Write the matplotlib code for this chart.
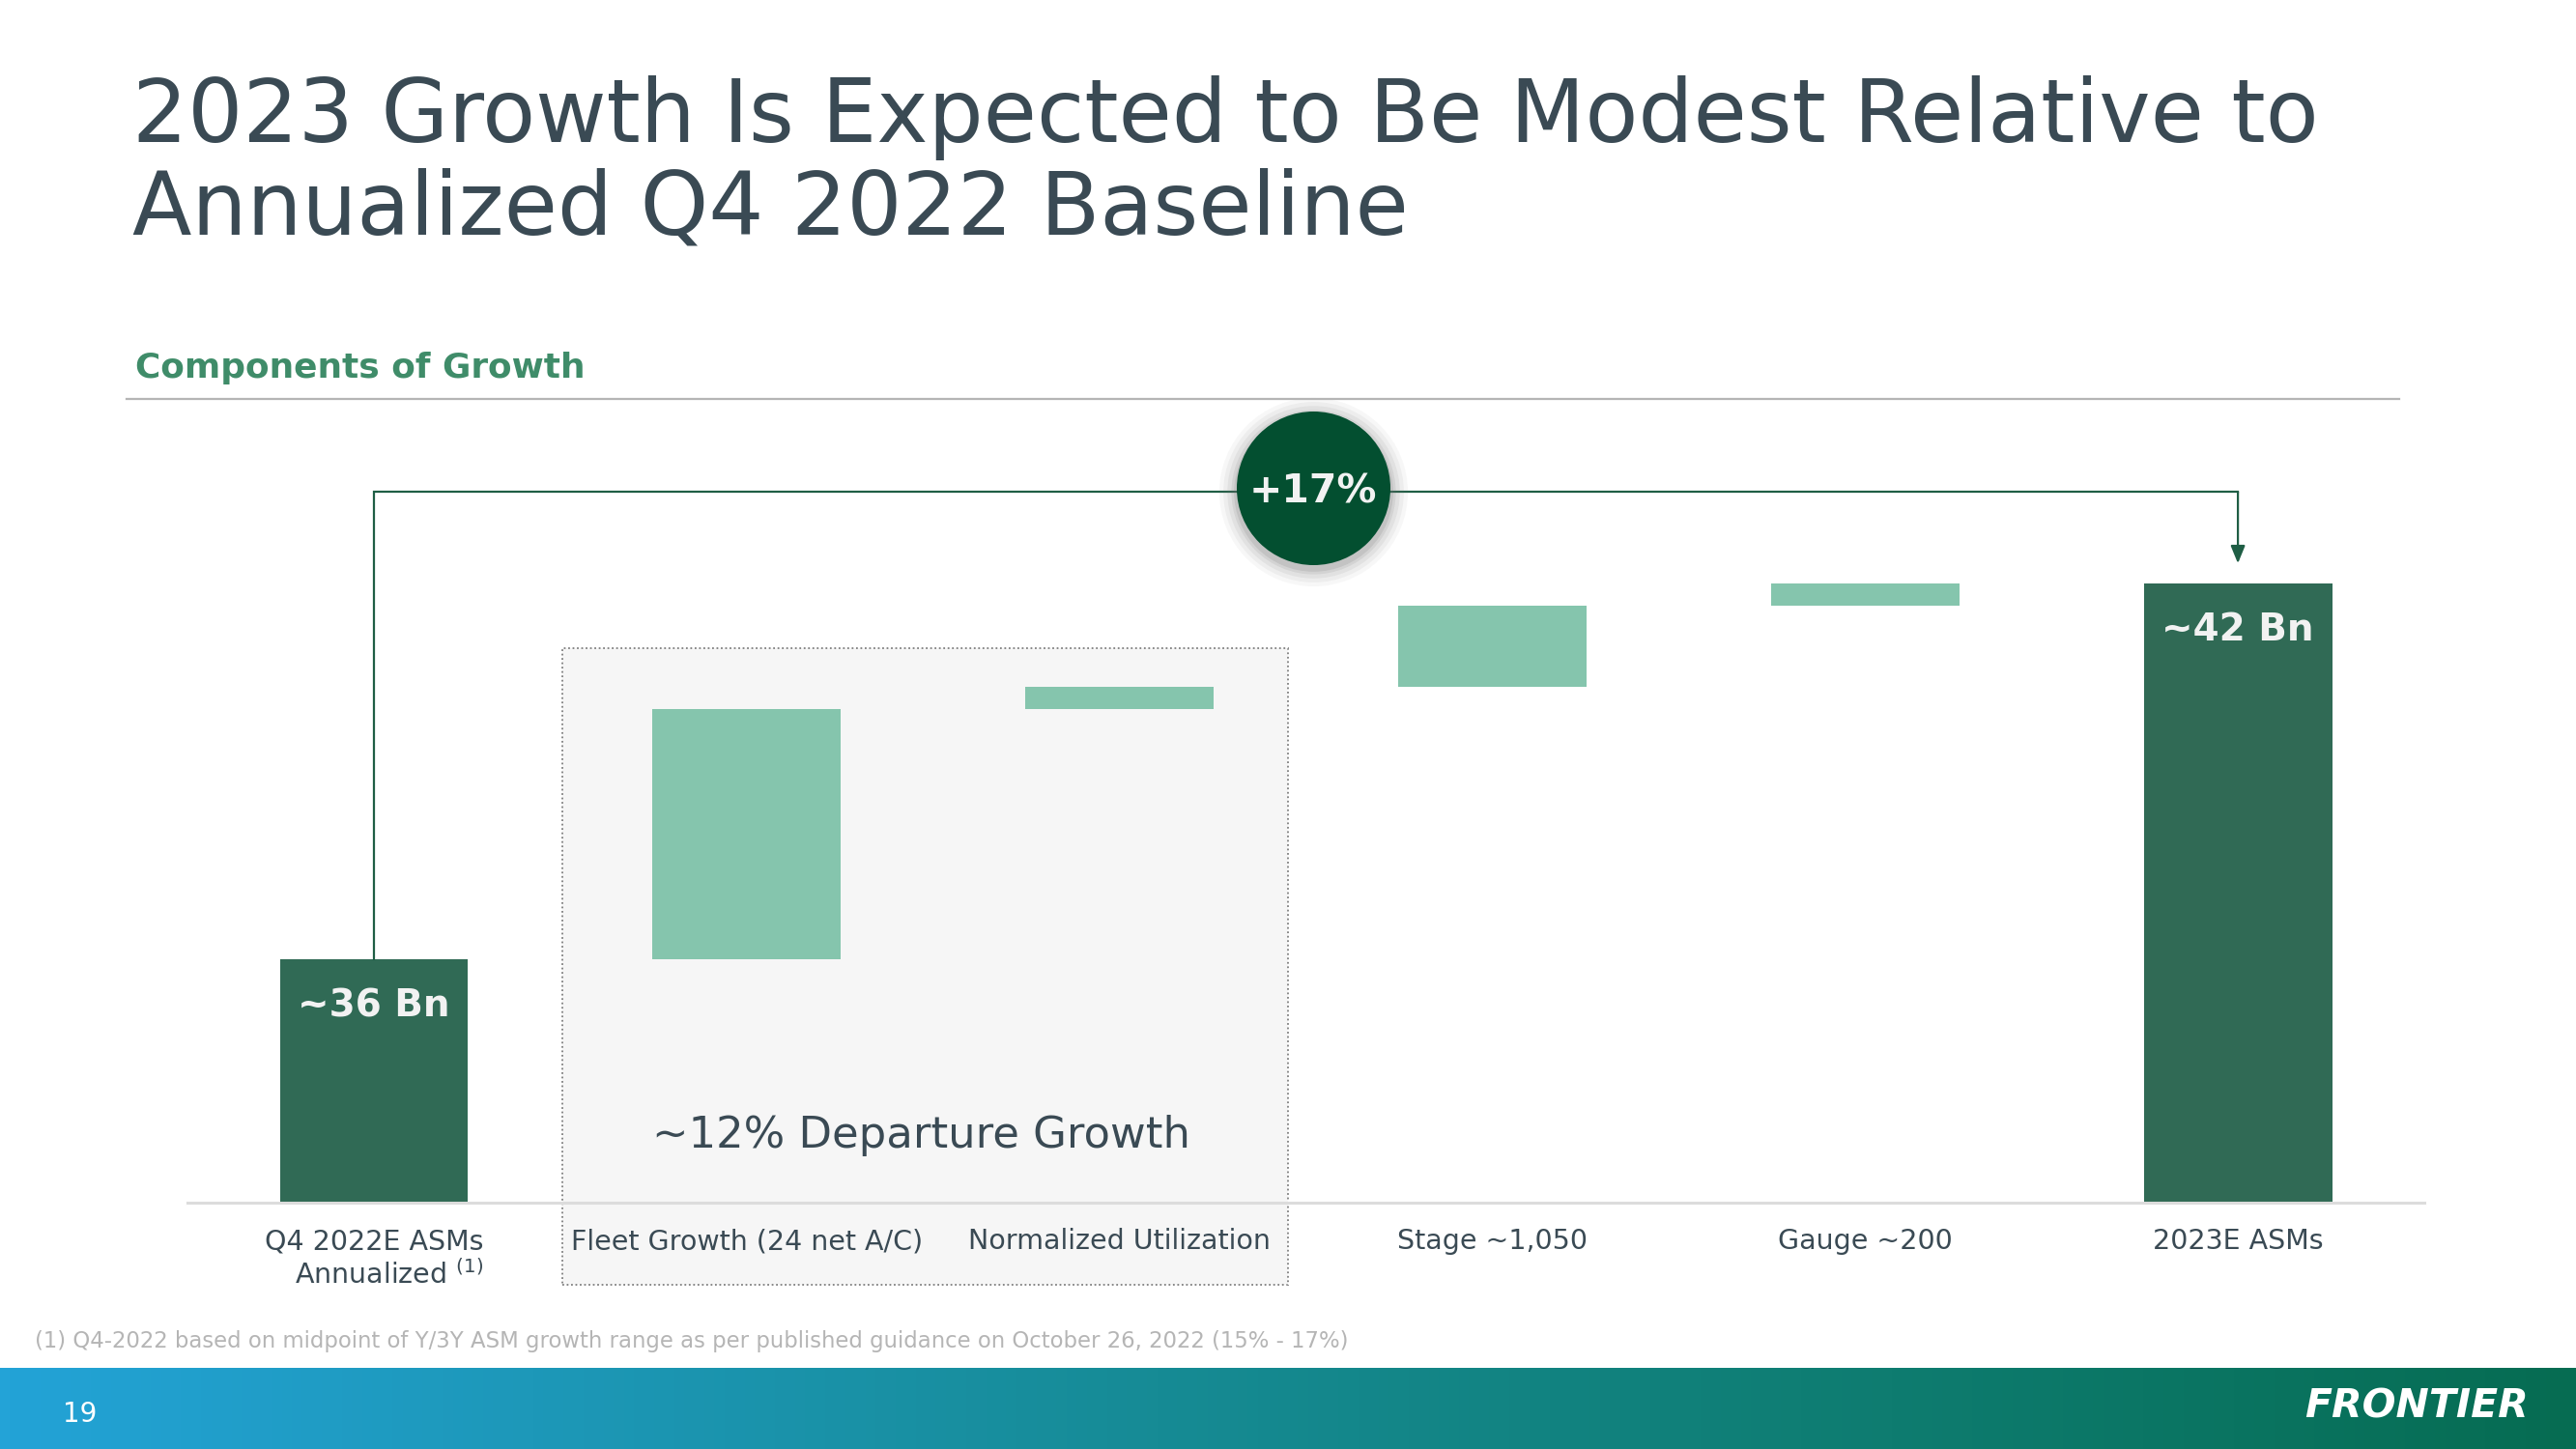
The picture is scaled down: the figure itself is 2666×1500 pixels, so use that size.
import matplotlib
matplotlib.use("Agg")
import matplotlib.pyplot as plt
import numpy as np
from matplotlib.patches import Rectangle, FancyArrowPatch
from matplotlib.lines import Line2D
from matplotlib.colors import LinearSegmentedColormap

plt.rcParams['font.family'] = ['DejaVu Sans']
plt.rcParams['mathtext.fontset'] = 'dejavusans'
plt.rcParams['mathtext.default'] = 'regular'

# ---------------- data ----------------
categories = ["Q4 2022E ASMs\nAnnualized $^{(1)}$", "Fleet Growth (24 net A/C)",
              "Normalized Utilization", "Stage ~1,050", "Gauge ~200", "2023E ASMs"]
start_value = 36.0          # Bn ASMs, Q4 2022 annualized
increments = [4.0, 0.35, 1.3, 0.35]
end_value = 42.0            # Bn ASMs, 2023E
total_labels = ["~36 Bn", "~42 Bn"]
growth_label = "+17%"
group_label = "~12% Departure Growth"

# ---------------- style ----------------
TITLE_C = "#3a4a54"
DARK = "#306a55"
LIGHT = "#85c5ad"
LINE_C = "#1f5e45"
CIRCLE_C = "#034f30"
Y_FLOOR = 32.12
Y_TOP = 44.836
BAR_W = 0.505

fig = plt.figure(figsize=(26.66, 15.0), dpi=100)
fig.patch.set_facecolor("white")

# Titles
fig.text(137 / 2666, 1 - 147.3 / 1500, "2023 Growth Is Expected to Be Modest Relative to",
         fontsize=64.7, color=TITLE_C, va="baseline", ha="left")
fig.text(137 / 2666, 1 - 242.7 / 1500, "Annualized Q4 2022 Baseline",
         fontsize=64.7, color=TITLE_C, va="baseline", ha="left")
fig.text(140 / 2666, 1 - 391 / 1500, "Components of Growth", fontsize=25.8,
         fontweight="bold", color="#3f8c69", va="baseline", ha="left")
fig.add_artist(Line2D([131 / 2666, 2483 / 2666], [1 - 413 / 1500] * 2,
                      color="#b5b5b5", lw=1.6, transform=fig.transFigure))

# Main axes
ax = fig.add_axes([194.1 / 2666, 0.17, (2509 - 194.1) / 2666, 825 / 1500])
ax.set_facecolor("none")
ax.set_xlim(-0.5, 5.5)
ax.set_ylim(Y_FLOOR, Y_TOP)

x = np.arange(len(categories))
cum = start_value + np.cumsum([0] + increments)
# total bars
ax.bar([x[0], x[-1]], [start_value - Y_FLOOR, end_value - Y_FLOOR], bottom=Y_FLOOR,
       width=BAR_W, color=DARK, zorder=2)
# floating increment bars
ax.bar(x[1:-1], increments, bottom=cum[:-1], width=BAR_W, color=LIGHT, zorder=2)

# bar value labels
for xi, val, lbl in zip([x[0], x[-1]], [start_value, end_value], total_labels):
    ax.annotate(lbl, xy=(xi, val), xytext=(0, -42.5), textcoords="offset points",
                ha="center", va="baseline", fontsize=28, fontweight="bold",
                color="#f2f2f2", zorder=4)

# grouped "departure growth" box
box_left = 0.505
box_right = 2.452
ax.add_patch(Rectangle((box_left, 30.81), box_right - box_left, 40.97 - 30.81,
                       facecolor="#f6f6f6", edgecolor="#7f7f7f", lw=1.3,
                       linestyle=(0, (1, 1.5)), clip_on=False, zorder=0.5))
ax.text(x[1] - BAR_W / 2, 33.0, group_label, fontsize=32.3, color=TITLE_C,
        ha="left", va="baseline", zorder=3)

# bracket with arrow
BRACKET_Y = 43.46
ax.plot([x[0], x[0], x[-1]], [start_value, BRACKET_Y, BRACKET_Y], color=LINE_C,
        lw=1.6, zorder=3, solid_joinstyle="miter", clip_on=False)
arrow = FancyArrowPatch((x[-1], BRACKET_Y), (x[-1], 42.32),
                        arrowstyle="-|>,head_length=11,head_width=4.5",
                        mutation_scale=1, color=LINE_C, lw=1.6,
                        shrinkA=0, shrinkB=0, zorder=3)
ax.add_patch(arrow)

# growth circle with soft shadow
CX = 2.52
CY = BRACKET_Y + 0.06
diam_pt = 114.5
for extra, a in [(26, 0.05), (20, 0.07), (14, 0.09), (8, 0.12), (4, 0.16)]:
    ax.scatter([CX], [CY - 0.06], s=(diam_pt + extra) ** 2, color="#707070",
               alpha=a, lw=0, zorder=4, clip_on=False)
ax.scatter([CX], [CY], s=diam_pt ** 2, color=CIRCLE_C, lw=0, zorder=5, clip_on=False)
ax.text(CX, BRACKET_Y - 0.18, growth_label, fontsize=29.5, fontweight="bold",
        color="#f2f2f2", ha="center", va="baseline", zorder=6)

# axis styling
for s in ["top", "right", "left"]:
    ax.spines[s].set_visible(False)
ax.spines["bottom"].set_color("#dcdcdc")
ax.spines["bottom"].set_linewidth(2.2)
ax.set_yticks([])
ax.set_xticks(x)
ax.set_xticklabels(categories, fontsize=20.5, color=TITLE_C)
ax.tick_params(axis="x", length=0, pad=19)
for lbl in ax.get_xticklabels():
    lbl.set_multialignment("right")

# footnote
fig.text(36 / 2666, 1 - 1395 / 1500,
         "(1) Q4-2022 based on midpoint of Y/3Y ASM growth range as per published guidance on October 26, 2022 (15% - 17%)",
         fontsize=16.4, color="#b5b5b5", ha="left", va="baseline")

# footer band
fax = fig.add_axes([0, 0, 1, 84 / 1500])
cmap = LinearSegmentedColormap.from_list(
    "band", [(0, "#23a3d7"), (0.45, "#168b95"), (0.7, "#0f7e74"), (1.0, "#066c52")])
fax.imshow(np.linspace(0, 1, 512)[None, :], aspect="auto", cmap=cmap,
           extent=[0, 1, 0, 1])
fax.set_axis_off()
fig.text(65 / 2666, 1 - 1471.7 / 1500, "19", fontsize=20, color="white",
         ha="left", va="baseline")
fig.text(2617 / 2666, 1 - 1468 / 1500, "FRONTIER", fontsize=29.5, color="white",
         fontweight="bold", fontstyle="italic", ha="right", va="baseline")

fig.savefig("out.png", dpi=100, facecolor="white")
